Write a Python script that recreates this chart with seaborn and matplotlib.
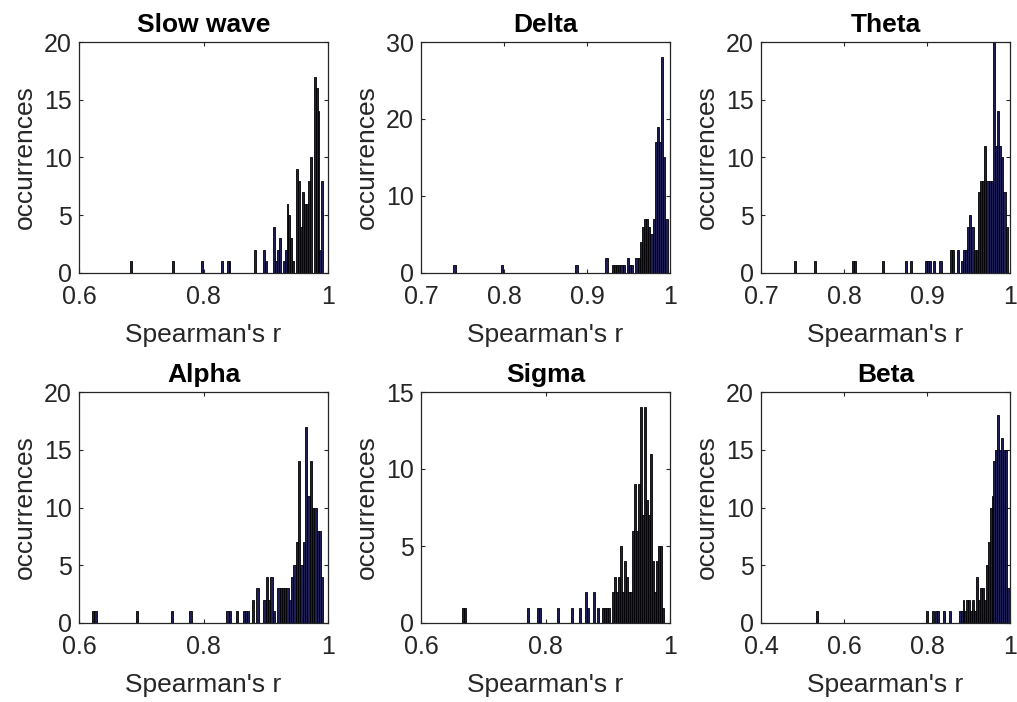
import numpy as np
import pandas as pd
import matplotlib
matplotlib.use("Agg")
import matplotlib.pyplot as plt
import seaborn as sns
from matplotlib.ticker import FixedLocator, FuncFormatter

titles = ["Slow wave", "Delta", "Theta", "Alpha", "Sigma", "Beta"]

slow_r = [0.6834, 0.7514, 0.7979, 0.8290, 0.8390, 0.8429, 0.8814, 0.8969, 0.9006,
          0.9129, 0.9166, 0.9203, 0.9236, 0.9273, 0.9305, 0.9342, 0.9374, 0.9412,
          0.9439, 0.9503, 0.9535, 0.9567, 0.9599, 0.9631, 0.9663, 0.9701, 0.9738,
          0.9770, 0.9802, 0.9834, 0.9872, 0.9909]
slow_n = [1, 1, 1, 1, 1, 1, 2, 2, 1,
          4, 1, 2, 3, 1, 2, 6, 5, 3,
          1, 9, 8, 4, 7, 6, 6, 8, 10,
          17, 16, 14, 2, 8]

delta_r = [0.7403, 0.7971, 0.8874, 0.9236, 0.9313, 0.9339, 0.9365, 0.9390, 0.9416,
           0.9442, 0.9494, 0.9519, 0.9545, 0.9597, 0.9623, 0.9648, 0.9674, 0.9700,
           0.9726, 0.9752, 0.9778, 0.9803, 0.9829, 0.9855, 0.9881, 0.9907, 0.9932,
           0.9958]
delta_n = [1, 1, 1, 2, 1, 1, 1, 1, 1,
           1, 2, 1, 1, 2, 2, 4, 6, 7,
           7, 6, 5, 7, 17, 19, 17, 28, 15,
           7]

theta_r = [0.7414, 0.7645, 0.8108, 0.8134, 0.8469, 0.8751, 0.8803, 0.8983, 0.9009,
           0.9034, 0.9086, 0.9163, 0.9292, 0.9317, 0.9369, 0.9420, 0.9446, 0.9472,
           0.9497, 0.9523, 0.9549, 0.9574, 0.9600, 0.9626, 0.9652, 0.9677, 0.9703,
           0.9729, 0.9755, 0.9780, 0.9806, 0.9832, 0.9857, 0.9883, 0.9909, 0.9935,
           0.9960]
theta_n = [1, 1, 1, 1, 1, 1, 1, 1, 1,
           1, 1, 1, 2, 2, 2, 1, 2, 2,
           4, 5, 4, 2, 2, 7, 8, 8, 11,
           8, 8, 8, 20, 11, 14, 11, 10, 7,
           4]

alpha_r = [0.6230, 0.6267, 0.6936, 0.7493, 0.7791, 0.8385, 0.8422, 0.8534, 0.8645,
           0.8683, 0.8720, 0.8794, 0.8868, 0.8980, 0.9017, 0.9054, 0.9091, 0.9128,
           0.9203, 0.9240, 0.9277, 0.9314, 0.9351, 0.9389, 0.9426, 0.9463, 0.9500,
           0.9537, 0.9574, 0.9611, 0.9649, 0.9686, 0.9723, 0.9760, 0.9797, 0.9834,
           0.9871, 0.9909]
alpha_n = [1, 1, 1, 1, 1, 1, 1, 1, 1,
           1, 1, 2, 3, 2, 4, 2, 4, 1,
           3, 3, 3, 3, 3, 2, 4, 5, 7,
           14, 5, 7, 17, 11, 14, 10, 10, 8,
           8, 4]

sigma_r = [0.6672, 0.6705, 0.7713, 0.7876, 0.7908, 0.8201, 0.8429, 0.8559, 0.8656,
           0.8689, 0.8786, 0.8852, 0.8917, 0.8949, 0.8982, 0.9014, 0.9079, 0.9112,
           0.9144, 0.9177, 0.9209, 0.9242, 0.9274, 0.9307, 0.9339, 0.9372, 0.9405,
           0.9437, 0.9470, 0.9502, 0.9535, 0.9567, 0.9600, 0.9632, 0.9665, 0.9697,
           0.9730, 0.9762, 0.9795, 0.9827, 0.9860, 0.9892]
sigma_n = [1, 1, 1, 1, 1, 1, 1, 1, 2,
           1, 2, 1, 1, 1, 1, 1, 2, 3,
           2, 3, 5, 2, 4, 3, 2, 2, 6,
           9, 6, 9, 14, 7, 14, 8, 7, 11,
           4, 2, 4, 5, 5, 1]

beta_r = [0.5341, 0.7990, 0.8150, 0.8216, 0.8256, 0.8393, 0.8537, 0.8778, 0.8818,
          0.8858, 0.8914, 0.8963, 0.9011, 0.9059, 0.9107, 0.9155, 0.9203, 0.9252,
          0.9300, 0.9348, 0.9396, 0.9444, 0.9493, 0.9541, 0.9589, 0.9629, 0.9677,
          0.9725, 0.9766, 0.9814, 0.9862, 0.9902, 0.9950]
beta_n = [1, 1, 1, 1, 1, 1, 1, 1, 1,
          2, 1, 2, 2, 1, 2, 1, 4, 2,
          3, 3, 2, 5, 7, 10, 11, 14, 15,
          18, 15, 16, 15, 15, 3]

x_limits = [(0.6, 1.0), (0.7, 1.0), (0.7, 1.0), (0.6, 1.0), (0.6, 1.0), (0.4, 1.0)]
x_ticks = [[0.6, 0.8, 1.0], [0.7, 0.8, 0.9, 1.0], [0.7, 0.8, 0.9, 1.0],
           [0.6, 0.8, 1.0], [0.6, 0.8, 1.0], [0.4, 0.6, 0.8, 1.0]]
y_limits = [20, 30, 20, 20, 15, 20]
y_ticks = [[0, 5, 10, 15, 20], [0, 10, 20, 30], [0, 5, 10, 15, 20],
           [0, 5, 10, 15, 20], [0, 5, 10, 15], [0, 5, 10, 15, 20]]

panels = [(slow_r, slow_n), (delta_r, delta_n), (theta_r, theta_n),
          (alpha_r, alpha_n), (sigma_r, sigma_n), (beta_r, beta_n)]

sns.set_theme(style="white")
plt.rcParams["font.family"] = ["Liberation Sans", "DejaVu Sans"]

W, H = 1017, 702
fig = plt.figure(figsize=(W / 100, H / 100), dpi=100)
fig.patch.set_facecolor("white")
lefts = [79, 421, 761]
tops = [42, 392]
aw, ah = 249, 231
face = "#1f1f55"
txt = "#262626"

fmt = FuncFormatter(lambda v, p: "%g" % v)

for i, (r, n) in enumerate(panels):
    row, col = divmod(i, 3)
    ax = fig.add_axes([lefts[col] / W, (H - tops[row] - ah) / H, aw / W, ah / H])
    df = pd.DataFrame({"r": np.asarray(r, dtype=float), "n": np.asarray(n, dtype=float)})
    lo, hi = df["r"].min(), df["r"].max()
    step = (hi - lo) / 99
    sns.histplot(data=df, x="r", weights="n", bins=100,
                 binrange=(lo - step / 2, hi + step / 2), ax=ax,
                 color=face, alpha=1, edgecolor="black", linewidth=0.6)
    ax.set_xlim(*x_limits[i])
    ax.set_ylim(0, y_limits[i])
    ax.xaxis.set_major_locator(FixedLocator(x_ticks[i]))
    ax.yaxis.set_major_locator(FixedLocator(y_ticks[i]))
    ax.xaxis.set_major_formatter(fmt)
    ax.yaxis.set_major_formatter(fmt)
    ax.tick_params(direction="in", length=3, width=0.8, colors=txt,
                   labelsize=18, top=True, right=True, bottom=True, left=True,
                   labelcolor=txt)
    ax.tick_params(axis="x", pad=9)
    ax.tick_params(axis="y", pad=5)
    for s in ax.spines.values():
        s.set_visible(True)
        s.set_color(txt)
        s.set_linewidth(0.9)
    ax.set_title(titles[i], fontsize=19, fontweight="bold", color="black", pad=7)
    ax.set_xlabel("Spearman's r", fontsize=19, color=txt, labelpad=10)
    ax.set_ylabel("occurrences", fontsize=19, color=txt, labelpad=5)
    ax.grid(False)

fig.savefig("out.png", dpi=100, facecolor="white")
